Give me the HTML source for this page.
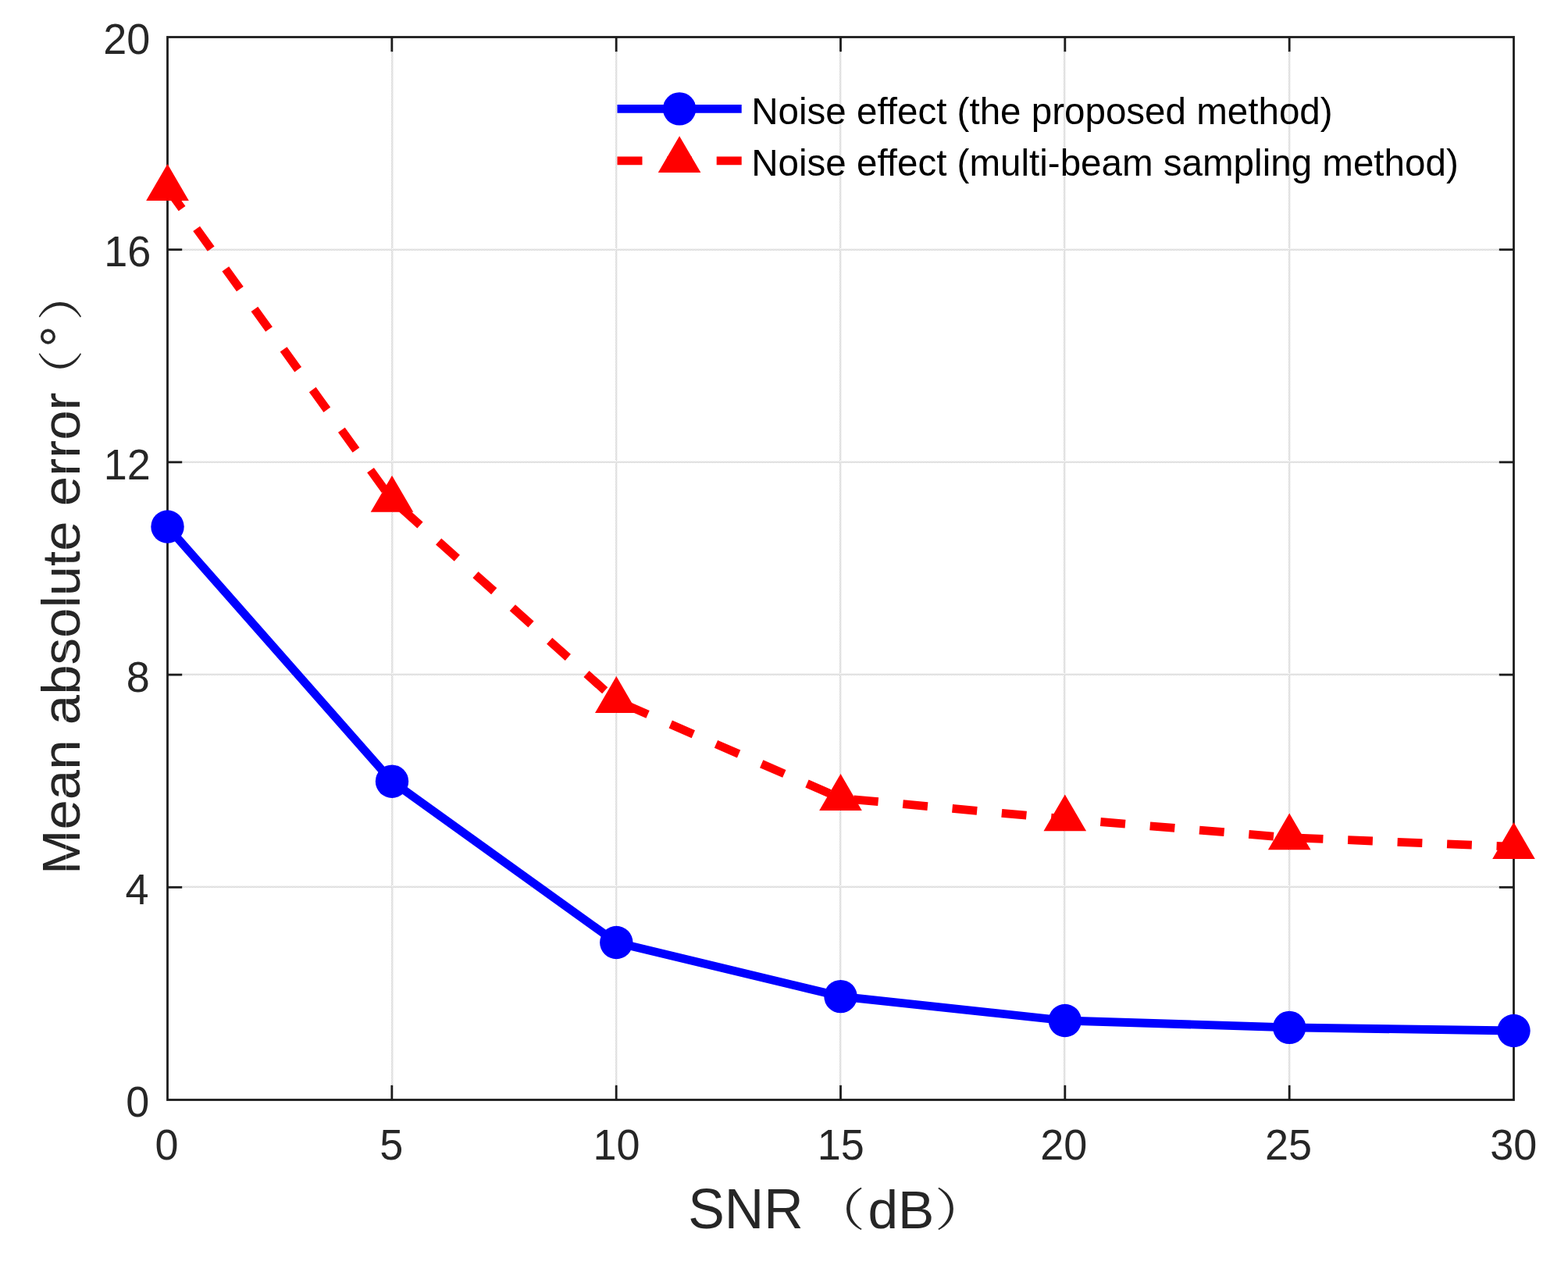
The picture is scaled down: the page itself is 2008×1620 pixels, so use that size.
<!DOCTYPE html>
<html lang="en"><head><meta charset="utf-8"><title>Mean absolute error vs SNR</title>
<style>html,body{margin:0;padding:0;background:#fff}body{width:2008px;height:1620px;overflow:hidden}svg{display:block}text{font-family:"Liberation Sans","Noto Serif CJK SC",sans-serif}.cjk{font-family:"Noto Serif CJK SC","Noto Sans CJK SC",serif}</style></head><body>
<svg width="2008" height="1620" viewBox="0 0 2008 1620">
<rect width="2008" height="1620" fill="#fff"/>
<defs><pattern id="dg" width="2" height="2" patternUnits="userSpaceOnUse"><rect x="0" y="0" width="1" height="1" fill="#c6c6c6"/><rect x="1" y="1" width="1" height="1" fill="#c6c6c6"/></pattern><pattern id="dl" width="2" height="2" patternUnits="userSpaceOnUse"><rect x="0" y="0" width="1" height="1" fill="#e8e8e8"/><rect x="1" y="1" width="1" height="1" fill="#e8e8e8"/></pattern></defs>
<g shape-rendering="crispEdges">
<rect x="501" y="47.5" width="2" height="1361.0" fill="url(#dg)"/>
<rect x="503" y="47.5" width="1" height="1361.0" fill="url(#dl)"/>
<rect x="788" y="47.5" width="2" height="1361.0" fill="url(#dg)"/>
<rect x="790" y="47.5" width="1" height="1361.0" fill="url(#dl)"/>
<rect x="1075" y="47.5" width="2" height="1361.0" fill="url(#dg)"/>
<rect x="1077" y="47.5" width="1" height="1361.0" fill="url(#dl)"/>
<rect x="1362" y="47.5" width="2" height="1361.0" fill="url(#dg)"/>
<rect x="1364" y="47.5" width="1" height="1361.0" fill="url(#dl)"/>
<rect x="1650" y="47.5" width="2" height="1361.0" fill="url(#dg)"/>
<rect x="1652" y="47.5" width="1" height="1361.0" fill="url(#dl)"/>
<rect x="214.5" y="318" width="1724.0" height="1" fill="url(#dl)"/>
<rect x="214.5" y="319" width="1724.0" height="2" fill="url(#dg)"/>
<rect x="214.5" y="590" width="1724.0" height="1" fill="url(#dl)"/>
<rect x="214.5" y="591" width="1724.0" height="2" fill="url(#dg)"/>
<rect x="214.5" y="862" width="1724.0" height="1" fill="url(#dl)"/>
<rect x="214.5" y="863" width="1724.0" height="2" fill="url(#dg)"/>
<rect x="214.5" y="1134" width="1724.0" height="1" fill="url(#dl)"/>
<rect x="214.5" y="1135" width="1724.0" height="2" fill="url(#dg)"/>
</g>
<g stroke="#1c1c1c" stroke-width="2.8" fill="none" stroke-linecap="butt">
<rect x="214.5" y="47.5" width="1724.0" height="1361.0"/>
<line x1="501.83" y1="1408.5" x2="501.83" y2="1389.8"/>
<line x1="501.83" y1="47.5" x2="501.83" y2="66.2"/>
<line x1="789.17" y1="1408.5" x2="789.17" y2="1389.8"/>
<line x1="789.17" y1="47.5" x2="789.17" y2="66.2"/>
<line x1="1076.50" y1="1408.5" x2="1076.50" y2="1389.8"/>
<line x1="1076.50" y1="47.5" x2="1076.50" y2="66.2"/>
<line x1="1363.83" y1="1408.5" x2="1363.83" y2="1389.8"/>
<line x1="1363.83" y1="47.5" x2="1363.83" y2="66.2"/>
<line x1="1651.17" y1="1408.5" x2="1651.17" y2="1389.8"/>
<line x1="1651.17" y1="47.5" x2="1651.17" y2="66.2"/>
<line x1="214.5" y1="1136.30" x2="233.2" y2="1136.30"/>
<line x1="1938.5" y1="1136.30" x2="1919.8" y2="1136.30"/>
<line x1="214.5" y1="864.10" x2="233.2" y2="864.10"/>
<line x1="1938.5" y1="864.10" x2="1919.8" y2="864.10"/>
<line x1="214.5" y1="591.90" x2="233.2" y2="591.90"/>
<line x1="1938.5" y1="591.90" x2="1919.8" y2="591.90"/>
<line x1="214.5" y1="319.70" x2="233.2" y2="319.70"/>
<line x1="1938.5" y1="319.70" x2="1919.8" y2="319.70"/>
</g>
<polyline points="214.50,674.50 502.00,1000.70 789.30,1207.00 1076.50,1276.10 1363.80,1307.00 1651.20,1315.90 1938.50,1320.00" fill="none" stroke="#0000ff" stroke-width="10.8" stroke-linejoin="round"/>
<g fill="#0000ff">
<circle cx="214.50" cy="674.50" r="21.2"/>
<circle cx="502.00" cy="1000.70" r="21.2"/>
<circle cx="789.30" cy="1207.00" r="21.2"/>
<circle cx="1076.50" cy="1276.10" r="21.2"/>
<circle cx="1363.80" cy="1307.00" r="21.2"/>
<circle cx="1651.20" cy="1315.90" r="21.2"/>
<circle cx="1938.50" cy="1320.00" r="21.2"/>
</g>
<polyline points="214.50,241.30 502.00,640.20 789.30,897.30 1076.50,1022.30 1363.80,1048.70 1651.20,1072.70 1938.50,1084.30" fill="none" stroke="#ff0000" stroke-width="10.8" stroke-dasharray="31.77 31.76" stroke-linejoin="round"/>
<g fill="#ff0000">
<polygon points="214.50,210.10 187.20,256.90 241.80,256.90"/>
<polygon points="502.00,609.00 474.70,655.80 529.30,655.80"/>
<polygon points="789.30,866.10 762.00,912.90 816.60,912.90"/>
<polygon points="1076.50,991.10 1049.20,1037.90 1103.80,1037.90"/>
<polygon points="1363.80,1017.50 1336.50,1064.30 1391.10,1064.30"/>
<polygon points="1651.20,1041.50 1623.90,1088.30 1678.50,1088.30"/>
<polygon points="1938.50,1053.10 1911.20,1099.90 1965.80,1099.90"/>
</g>
<line x1="790.5" y1="139.4" x2="949.7" y2="139.4" stroke="#0000ff" stroke-width="10.8"/>
<circle cx="870.1" cy="139.4" r="21.2" fill="#0000ff"/>
<line x1="790.5" y1="205.8" x2="949.7" y2="205.8" stroke="#ff0000" stroke-width="10.8" stroke-dasharray="32 31.7 31.8 31.7 32"/>
<g fill="#ff0000"><polygon points="870.10,174.20 842.80,221.00 897.40,221.00"/></g>
<g fill="#000" font-size="47.56">
<text x="962.2" y="159.2">Noise effect (the proposed method)</text>
<text x="962.2" y="225.3">Noise effect (multi-beam sampling method)</text>
</g>
<g fill="#262626" font-size="54.0">
<text transform="translate(213.50,1484.6) scale(1,1.045)" text-anchor="middle">0</text>
<text transform="translate(501.23,1484.6) scale(1,1.045)" text-anchor="middle">5</text>
<text transform="translate(789.47,1484.6) scale(1,1.045)" text-anchor="middle">10</text>
<text transform="translate(1076.80,1484.6) scale(1,1.045)" text-anchor="middle">15</text>
<text transform="translate(1362.33,1484.6) scale(1,1.045)" text-anchor="middle">20</text>
<text transform="translate(1649.97,1484.6) scale(1,1.045)" text-anchor="middle">25</text>
<text transform="translate(1938.20,1484.6) scale(1,1.045)" text-anchor="middle">30</text>
<text transform="translate(191.30,1430.10) scale(1,1.045)" text-anchor="end">0</text>
<text transform="translate(190.60,1157.90) scale(1,1.045)" text-anchor="end">4</text>
<text transform="translate(191.80,885.70) scale(1,1.045)" text-anchor="end">8</text>
<text transform="translate(192.80,613.50) scale(1,1.045)" text-anchor="end">12</text>
<text transform="translate(193.40,341.30) scale(1,1.045)" text-anchor="end">16</text>
<text transform="translate(192.40,69.10) scale(1,1.045)" text-anchor="end">20</text>
</g>
<g fill="#262626" font-size="69.4">
<text transform="translate(881.2,1573.4) scale(1.006,1.05)">SNR</text>
<text class="cjk" font-size="58.0" transform="translate(1039.51,1569.50) scale(1.18,1)">（</text>
<text x="1111.4" y="1573.4">dB</text>
<text class="cjk" font-size="58.0" transform="translate(1196.91,1569.50) scale(1.18,1)">）</text>
<g transform="translate(102.0,1120.0) rotate(-90)" font-size="69.02">
<text x="0" y="0">Mean absolute error</text>
<text class="cjk" font-size="58.0" transform="translate(603.71,-3.30) scale(1.18,1)">（</text>
<text x="675.36" y="-2.0">°</text>
<text class="cjk" font-size="58.0" transform="translate(709.14,-3.30) scale(1.18,1)">）</text>
</g>
</g>
<rect x="84" y="498" width="1" height="620" fill="#fff" fill-opacity="0.55" shape-rendering="crispEdges"/>
</svg></body></html>
